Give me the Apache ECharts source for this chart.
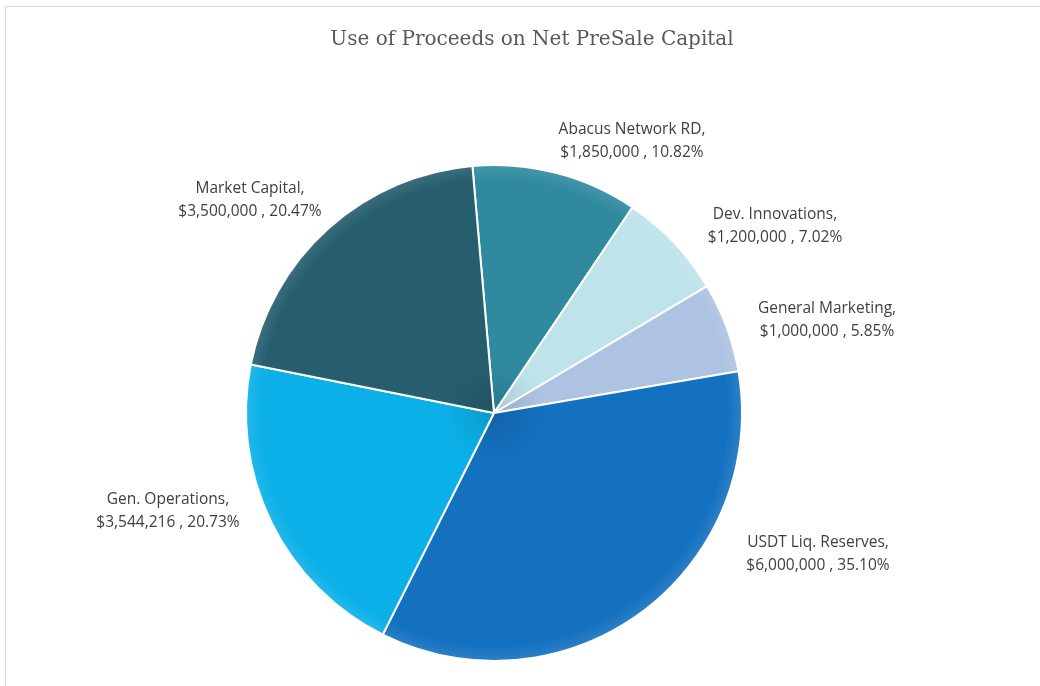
<!DOCTYPE html>
<html>
<head>
<meta charset="utf-8">
<script src="https://cdn.jsdelivr.net/npm/echarts@6/dist/echarts.min.js"></script>
<style>html,body{margin:0;padding:0;background:#fff}#c{width:1040px;height:686px}</style>
</head>
<body>
<div id="c"></div>
<script>
const categories = ['Abacus Network RD', 'Dev. Innovations', 'General Marketing', 'USDT Liq. Reserves', 'Gen. Operations', 'Market Capital'];
const values = [1850000, 1200000, 1000000, 6000000, 3544216, 3500000];
const percentLabels = ['10.82%', '7.02%', '5.85%', '35.10%', '20.73%', '20.47%'];
const sliceColors = ['#2f8aa0', '#bfe3ea', '#aec2e2', '#1471c0', '#0bb0e8', '#265e6e'];
const labelAnchors = [[632, 141], [775, 226], [827, 320], [818, 554], [168, 511], [250, 200]];

const CX = 494, CY = 413, R = 248;

function mix(hex, target, t) {
  const h = hex.replace('#', '');
  const r = parseInt(h.substr(0, 2), 16), g = parseInt(h.substr(2, 2), 16), b = parseInt(h.substr(4, 2), 16);
  const f = v => Math.round(v + (target - v) * t);
  return 'rgb(' + f(r) + ',' + f(g) + ',' + f(b) + ')';
}
function grad(c) {
  return {
    type: 'radial', x: CX, y: CY, r: R, global: true,
    colorStops: [
      { offset: 0, color: mix(c, 0, 0.12) },
      { offset: 0.2, color: c },
      { offset: 0.94, color: c },
      { offset: 1, color: mix(c, 255, 0.1) }
    ]
  };
}
function fmtMoney(v) {
  return '$' + v.toString().replace(/\B(?=(\d{3})+(?!\d))/g, ',');
}

const data = categories.map((name, i) => ({
  name: name,
  value: values[i],
  itemStyle: { color: grad(sliceColors[i]) }
}));

const chart = echarts.init(document.getElementById('c'), null, { renderer: 'canvas' });
chart.setOption({
  backgroundColor: '#ffffff',
  animation: false,
  graphic: [{
    type: 'rect', silent: true,
    shape: { x: 5.5, y: 6.5, width: 1200, height: 1000 },
    style: { fill: 'none', stroke: '#d9d9d9', lineWidth: 1 }
  }],
  title: {
    text: 'Use of Proceeds on Net PreSale Capital',
    left: 527, top: 25, textAlign: 'center',
    textStyle: { fontFamily: 'DejaVu Serif', fontSize: 20, fontWeight: 'normal', color: '#595959' }
  },
  series: [{
    type: 'pie',
    center: [CX, CY],
    radius: R,
    startAngle: 95,
    clockwise: true,
    data: data,
    itemStyle: { borderColor: '#ffffff', borderWidth: 2 },
    label: {
      show: true,
      position: 'outside',
      fontFamily: 'Open Sans',
      fontSize: 15.5,
      lineHeight: 23,
      color: '#404040',
      align: 'center',
      formatter: p => p.name + ',\n' + fmtMoney(p.value) + ' , ' + percentLabels[p.dataIndex]
    },
    labelLine: { show: false },
    labelLayout: p => ({
      x: labelAnchors[p.dataIndex][0],
      y: labelAnchors[p.dataIndex][1],
      align: 'center',
      verticalAlign: 'middle'
    }),
    emphasis: { disabled: true }
  }]
});
</script>
</body>
</html>
